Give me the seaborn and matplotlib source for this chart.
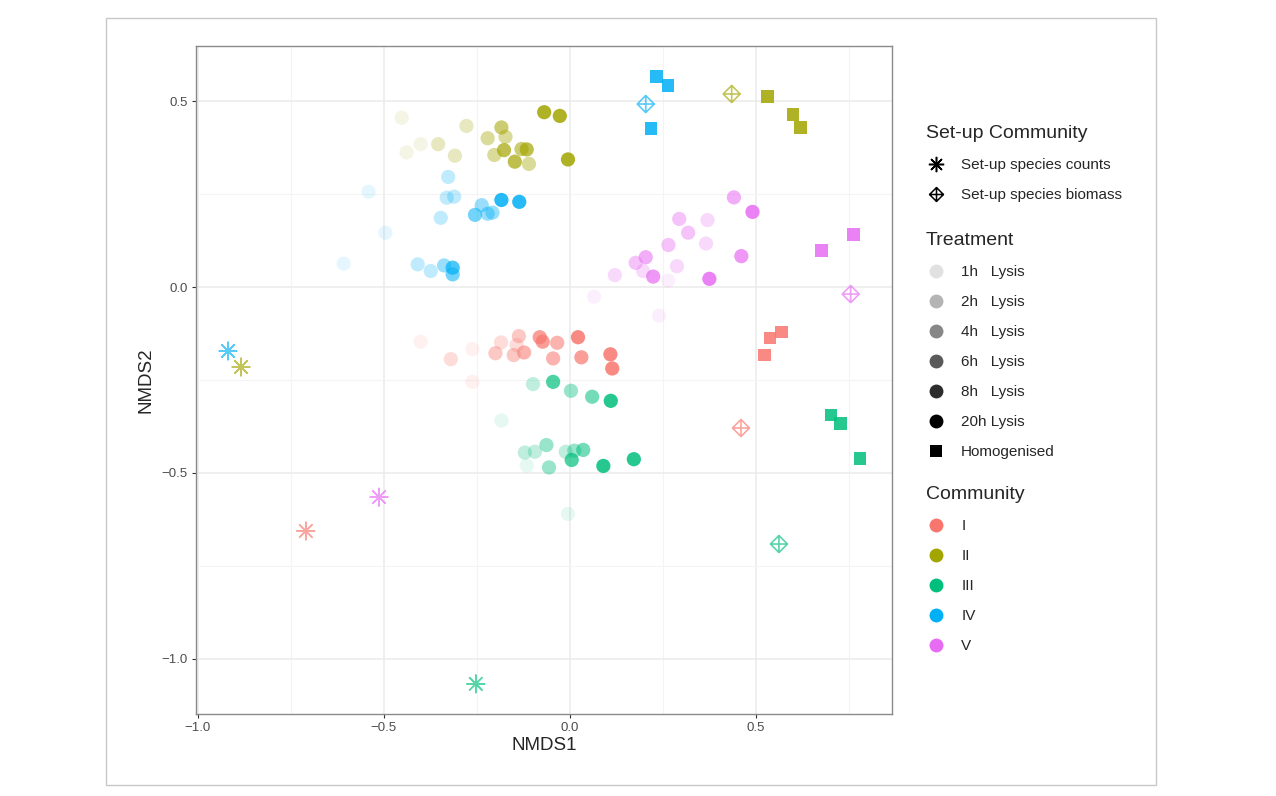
import numpy as np
import pandas as pd
import seaborn as sns
import matplotlib.pyplot as plt
from matplotlib.path import Path
from matplotlib.lines import Line2D
from matplotlib.patches import Rectangle

# Lysis time series (NMDS coordinates), one set of lists per community
lysis_levels = ['1h', '2h', '4h', '6h', '8h', '20h']

I_x = [-0.401, -0.262, -0.262, -0.320, -0.185, -0.143, -0.200, -0.137, -0.151,
       -0.123, -0.034, -0.045, -0.081, -0.073, 0.031, 0.022, 0.109, 0.114]
I_y = [-0.147, -0.167, -0.255, -0.194, -0.149, -0.156, -0.178, -0.132, -0.183,
       -0.176, -0.150, -0.192, -0.135, -0.147, -0.189, -0.135, -0.181, -0.219]
I_t = ['1h', '1h', '1h', '2h', '2h', '2h', '4h', '4h', '4h',
       '6h', '6h', '6h', '8h', '8h', '8h', '20h', '20h', '20h']

II_x = [-0.452, -0.439, -0.401, -0.354, -0.309, -0.278, -0.221, -0.173, -0.203,
        -0.110, -0.184, -0.130, -0.177, -0.148, -0.116, -0.069, -0.027, -0.005]
II_y = [0.455, 0.362, 0.384, 0.384, 0.353, 0.433, 0.400, 0.404, 0.355,
        0.331, 0.429, 0.371, 0.368, 0.337, 0.370, 0.470, 0.460, 0.343]
II_t = ['1h', '1h', '1h', '2h', '2h', '2h', '4h', '4h', '4h',
        '4h', '6h', '6h', '8h', '8h', '8h', '20h', '20h', '20h']

III_x = [-0.184, -0.116, -0.005, -0.099, -0.121, -0.094, -0.011, 0.003, -0.063,
         -0.056, 0.012, 0.060, 0.036, -0.045, 0.005, 0.110, 0.090, 0.172]
III_y = [-0.359, -0.480, -0.610, -0.261, -0.445, -0.443, -0.443, -0.279, -0.425,
         -0.485, -0.440, -0.295, -0.438, -0.255, -0.465, -0.306, -0.481, -0.463]
III_t = ['1h', '1h', '1h', '2h', '2h', '2h', '2h', '4h', '4h',
         '4h', '4h', '6h', '6h', '8h', '8h', '20h', '20h', '20h']

IV_x = [-0.541, -0.496, -0.608, -0.327, -0.331, -0.311, -0.347, -0.409, -0.374,
        -0.338, -0.237, -0.221, -0.208, -0.315, -0.255, -0.315, -0.184, -0.136]
IV_y = [0.256, 0.146, 0.063, 0.296, 0.240, 0.243, 0.186, 0.061, 0.043,
        0.058, 0.220, 0.197, 0.200, 0.034, 0.194, 0.052, 0.234, 0.229]
IV_t = ['1h', '1h', '1h', '2h', '2h', '2h', '2h', '2h', '2h',
        '4h', '4h', '4h', '4h', '6h', '6h', '8h', '20h', '20h']

V_x = [0.264, 0.065, 0.240, 0.370, 0.366, 0.288, 0.121, 0.197, 0.294,
       0.318, 0.265, 0.177, 0.441, 0.204, 0.461, 0.224, 0.491, 0.375]
V_y = [0.017, -0.026, -0.077, 0.180, 0.117, 0.056, 0.032, 0.043, 0.183,
       0.146, 0.113, 0.065, 0.241, 0.080, 0.083, 0.028, 0.202, 0.022]
V_t = ['1h', '1h', '1h', '2h', '2h', '2h', '2h', '2h', '4h',
       '4h', '4h', '4h', '6h', '6h', '8h', '8h', '20h', '20h']

# Homogenised samples
homog_comm = ['I', 'I', 'I', 'II', 'II', 'II', 'III', 'III', 'III',
              'IV', 'IV', 'IV', 'V', 'V']
homog_x = [0.570, 0.538, 0.524, 0.531, 0.600, 0.620, 0.702, 0.728, 0.780,
           0.233, 0.264, 0.218, 0.762, 0.677]
homog_y = [-0.121, -0.137, -0.183, 0.513, 0.464, 0.428, -0.344, -0.368, -0.460,
           0.565, 0.542, 0.426, 0.142, 0.099]

# Set-up community
setup_comm = ['I', 'II', 'III', 'IV', 'V']
counts_x = [-0.710, -0.884, -0.253, -0.919, -0.513]
counts_y = [-0.656, -0.215, -1.067, -0.172, -0.565]
biomass_x = [0.460, 0.435, 0.562, 0.204, 0.755]
biomass_y = [-0.379, 0.519, -0.691, 0.492, -0.019]

communities = ['I', 'II', 'III', 'IV', 'V']
palette = dict(zip(communities, ['#F8766D', '#A3A500', '#00BF7D', '#00B0F6', '#E76BF3']))
alphas = dict(zip(lysis_levels, [0.1, 0.25, 0.4, 0.55, 0.7, 0.85]))

lysis = pd.concat([
    pd.DataFrame({'NMDS1': I_x, 'NMDS2': I_y, 'Treatment': I_t, 'Community': 'I'}),
    pd.DataFrame({'NMDS1': II_x, 'NMDS2': II_y, 'Treatment': II_t, 'Community': 'II'}),
    pd.DataFrame({'NMDS1': III_x, 'NMDS2': III_y, 'Treatment': III_t, 'Community': 'III'}),
    pd.DataFrame({'NMDS1': IV_x, 'NMDS2': IV_y, 'Treatment': IV_t, 'Community': 'IV'}),
    pd.DataFrame({'NMDS1': V_x, 'NMDS2': V_y, 'Treatment': V_t, 'Community': 'V'}),
], ignore_index=True)
homog = pd.DataFrame({'NMDS1': homog_x, 'NMDS2': homog_y, 'Community': homog_comm})

sns.set_theme(style='whitegrid')
plt.rcParams['font.family'] = ['Liberation Sans', 'DejaVu Sans']

fig = plt.figure(figsize=(12.76, 7.96), dpi=100)
ax = fig.add_axes([196 / 1276, 1 - 714 / 796, 696 / 1276, 668 / 796])

for t in lysis_levels:
    sub = lysis[lysis['Treatment'] == t]
    sns.scatterplot(data=sub, x='NMDS1', y='NMDS2', hue='Community', palette=palette,
                    alpha=alphas[t], s=105, linewidth=0, legend=False, ax=ax, zorder=3)

sns.scatterplot(data=homog, x='NMDS1', y='NMDS2', hue='Community', palette=palette,
                marker='s', s=85, linewidth=0, alpha=0.85, legend=False, ax=ax, zorder=3)

# asterisk and diamond-with-cross markers for the set-up community
diamond_plus = Path([(0, 1), (1, 0), (0, -1), (-1, 0), (0, 1), (0, 1), (0, -1), (-1, 0), (1, 0)],
                    [Path.MOVETO, Path.LINETO, Path.LINETO, Path.LINETO, Path.CLOSEPOLY,
                     Path.MOVETO, Path.LINETO, Path.MOVETO, Path.LINETO])
ax.scatter(counts_x, counts_y, marker=(8, 2, 0), s=160, linewidths=1.1,
           c=[palette[c] for c in setup_comm], alpha=0.65, zorder=3)
ax.scatter(biomass_x, biomass_y, marker=diamond_plus, s=150, linewidths=1.2,
           facecolors='none', edgecolors=[palette[c] for c in setup_comm], alpha=0.65, zorder=3)

ax.set_xlim(-1.005, 0.866)
ax.set_ylim(-1.148, 0.648)
ax.set_xticks([-1.0, -0.5, 0.0, 0.5])
ax.set_yticks([-1.0, -0.5, 0.0, 0.5])
ax.set_xticks([-0.75, -0.25, 0.25, 0.75], minor=True)
ax.set_yticks([-0.75, -0.25, 0.25], minor=True)
ax.grid(which='major', color='#ebebeb', linewidth=1.1)
ax.grid(which='minor', color='#f4f4f4', linewidth=0.8)
ax.set_axisbelow(True)
for sp in ax.spines.values():
    sp.set_color('#8a8a8a')
    sp.set_linewidth(1.0)
ax.tick_params(which='major', length=3, width=0.8, color='#333333', labelsize=9.5,
               labelcolor='#4d4d4d', pad=3, left=True, bottom=True)
ax.tick_params(which='minor', length=0)
ax.set_xlabel('NMDS1', fontsize=13.5, labelpad=2)
ax.set_ylabel('NMDS2', fontsize=13.5, labelpad=5)

# Legends
leg_kw = dict(loc='upper left', frameon=False, fontsize=11, title_fontsize=14,
              labelspacing=1.05, handletextpad=1.0, borderaxespad=0, alignment='left',
              handlelength=1.3)

setup_handles = [
    Line2D([], [], marker=(8, 2, 0), color='black', linestyle='', markersize=11, markeredgewidth=1.1),
    Line2D([], [], marker=diamond_plus, color='black', markerfacecolor='none', linestyle='',
           markersize=10, markeredgewidth=1.1),
]
l1 = fig.legend(setup_handles, ['Set-up species counts', 'Set-up species biomass'],
                title='Set-up Community', bbox_to_anchor=(920 / 1276, 1 - 119 / 796), **leg_kw)

treat_handles = [Line2D([], [], marker='o', color='black', alpha=alphas[t] / 0.85, linestyle='',
                        markersize=10, markeredgewidth=0) for t in lysis_levels]
treat_handles.append(Line2D([], [], marker='s', color='black', linestyle='', markersize=8.5,
                            markeredgewidth=0))
treat_labels = [t + '   Lysis' if len(t) == 2 else t + ' Lysis' for t in lysis_levels] + ['Homogenised']
l2 = fig.legend(treat_handles, treat_labels, title='Treatment',
                bbox_to_anchor=(920 / 1276, 1 - 226 / 796), **leg_kw)

comm_handles = [Line2D([], [], marker='o', color=palette[c], linestyle='', markersize=10,
                       markeredgewidth=0) for c in communities]
l3 = fig.legend(comm_handles, communities, title='Community',
                bbox_to_anchor=(920 / 1276, 1 - 480 / 796), **leg_kw)

fig.patches.append(Rectangle((106 / 1276, 1 - 785 / 796), 1050 / 1276, 767 / 796,
                             transform=fig.transFigure, fill=False, edgecolor='#c8c8c8',
                             linewidth=1.0))

fig.savefig('out.png', dpi=100)
